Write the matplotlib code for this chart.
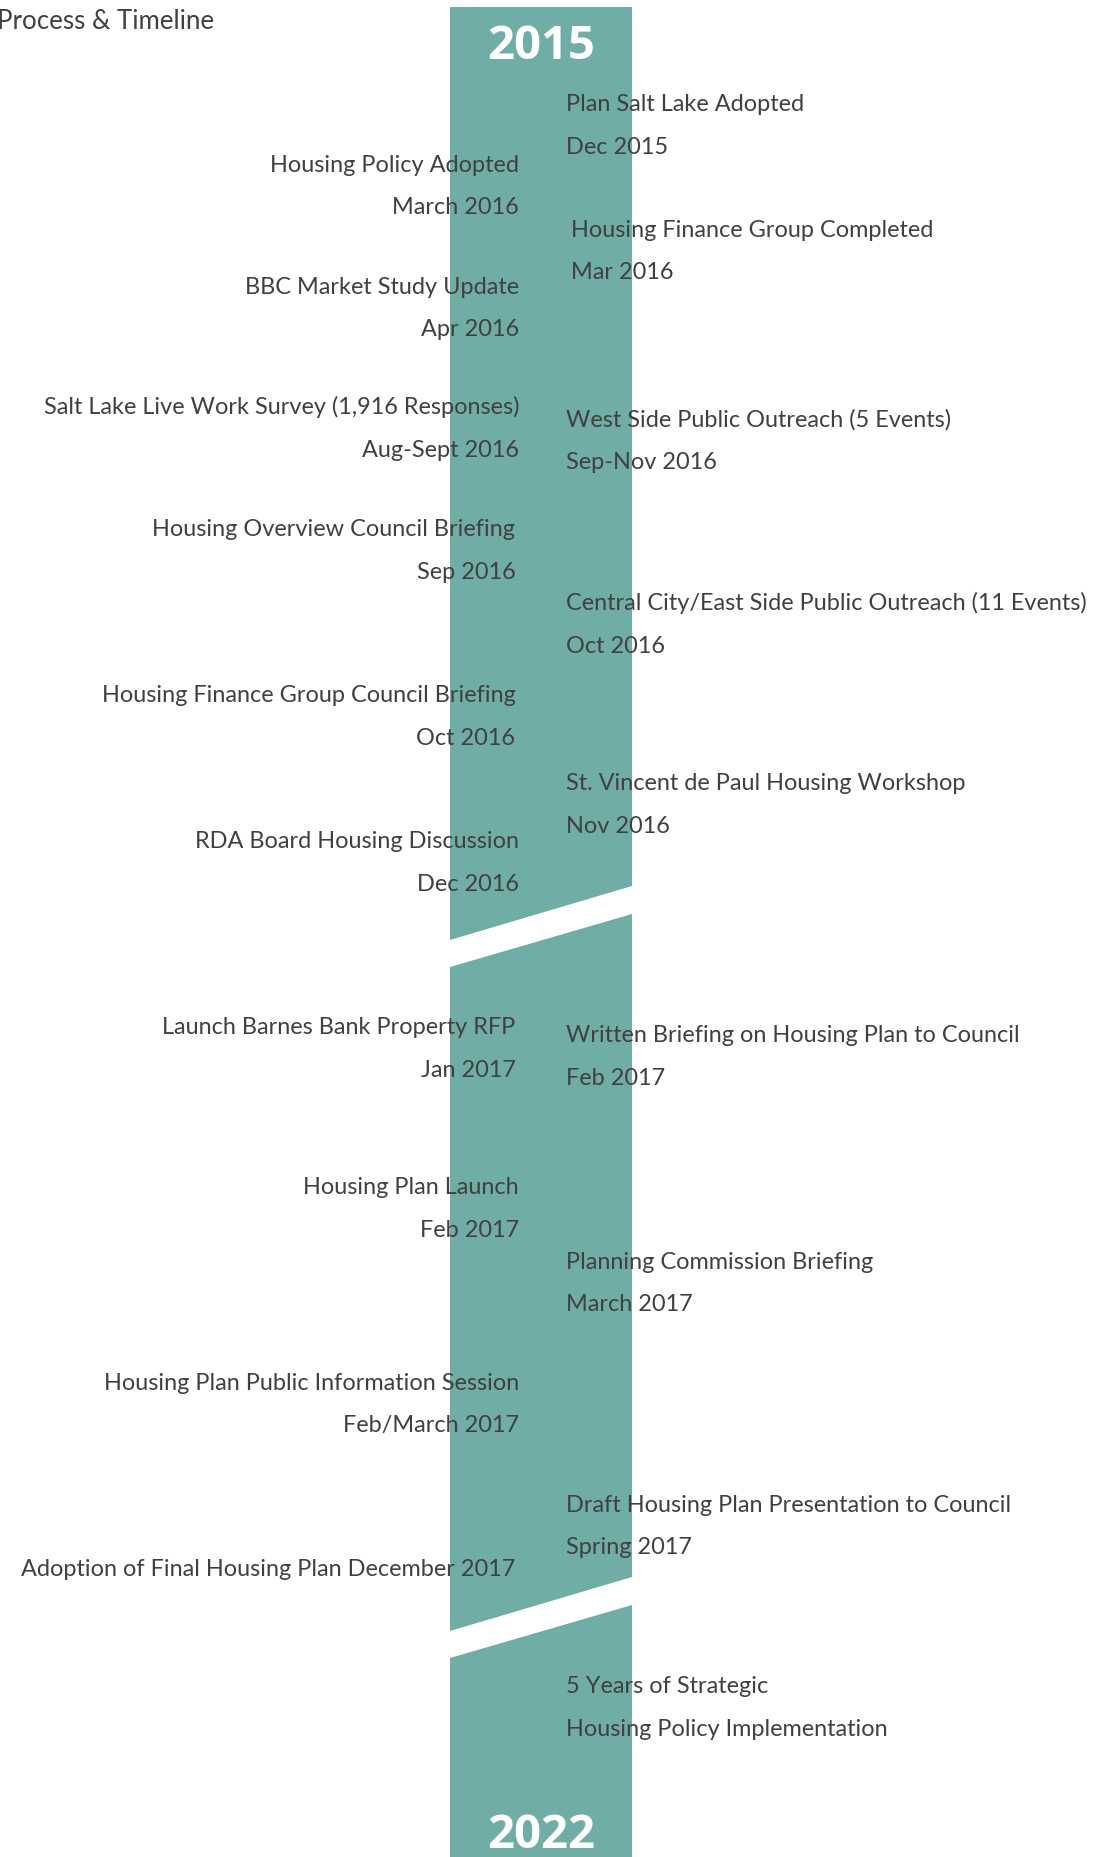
import matplotlib
matplotlib.use("Agg")
import matplotlib.pyplot as plt

S = 1096 / 925.0  # reading scale from the shrunk view

title = "Process & Timeline"

left_events = [
    ("Housing Policy Adopted", "March 2016"),
    ("BBC Market Study Update", "Apr 2016"),
    ("Salt Lake Live Work Survey (1,916 Responses)", "Aug-Sept 2016"),
    ("Housing Overview Council Briefing", "Sep 2016"),
    ("Housing Finance Group Council Briefing", "Oct 2016"),
    ("RDA Board Housing Discussion", "Dec 2016"),
    ("Launch Barnes Bank Property RFP", "Jan 2017"),
    ("Housing Plan Launch", "Feb 2017"),
    ("Housing Plan Public Information Session", "Feb/March 2017"),
    ("Adoption of Final Housing Plan December 2017", None),
]
left_y = [138, 241, 343, 446, 586, 709, 866, 1001, 1166, 1323]
left_x = [438, 438, 438, 435, 435, 438, 435, 438, 438, 435]

right_events = [
    ("Plan Salt Lake Adopted", "Dec 2015"),
    ("Housing Finance Group Completed", "Mar 2016"),
    ("West Side Public Outreach (5 Events)", "Sep-Nov 2016"),
    ("Central City/East Side Public Outreach (11 Events)", "Oct 2016"),
    ("St. Vincent de Paul Housing Workshop", "Nov 2016"),
    ("Written Briefing on Housing Plan to Council", "Feb 2017"),
    ("Planning Commission Briefing", "March 2017"),
    ("Draft Housing Plan Presentation to Council", "Spring 2017"),
    ("5 Years of Strategic", "Housing Policy Implementation"),
]
right_y = [87, 193, 353, 508, 660, 873, 1064, 1269, 1422]
right_x = [478, 482, 478, 478, 478, 478, 478, 478, 478]

years = ["2015", "2022"]

BAND = "#70ADA6"
TXT = "#404040"

W, H = 1096, 1858
fig = plt.figure(figsize=(W / 100, H / 100), dpi=100)
ax = fig.add_axes([0, 0, 1, 1])
ax.set_xlim(0, W)
ax.set_ylim(H, 0)
ax.axis("off")

# band pieces (full-size pixel geometry)
bx0, bx1 = 450, 632
pieces = [
    [(bx0, 8), (bx1, 8), (bx1, 887), (bx0, 941)],
    [(bx0, 968), (bx1, 915), (bx1, 1578), (bx0, 1632)],
    [(bx0, 1659), (bx1, 1606), (bx1, H), (bx0, H)],
]
for p in pieces:
    xs, ys = zip(*p)
    ax.fill(xs, ys, color=BAND, lw=0, zorder=1)

fam = ["Lato", "DejaVu Sans"]
fs = 16.9
lh = 36 * S
off = 8
kw = dict(fontsize=fs, family=fam, weight="normal", color=TXT, zorder=2,
          va="baseline")

for (a, b), y, x in zip(left_events, left_y, left_x):
    ax.text(x * S, y * S + off, a, ha="right", **kw)
    if b:
        ax.text(x * S, y * S + off + lh, b, ha="right", **kw)

for (a, b), y, x in zip(right_events, right_y, right_x):
    ax.text(x * S, y * S + off, a, ha="left", **kw)
    if b:
        ax.text(x * S, y * S + off + lh, b, ha="left", **kw)

ax.text(-3, 29, title, ha="left", va="baseline", fontsize=18.6, family=fam,
        weight="normal", color=TXT, zorder=2)

ykw = dict(ha="center", va="baseline", fontsize=34,
           family=["Open Sans", "DejaVu Sans"], weight="bold", color="white",
           zorder=3)
ax.text(541, 59, years[0], **ykw)
ax.text(541, 1848, years[1], **ykw)

fig.savefig("out.png", dpi=100)
